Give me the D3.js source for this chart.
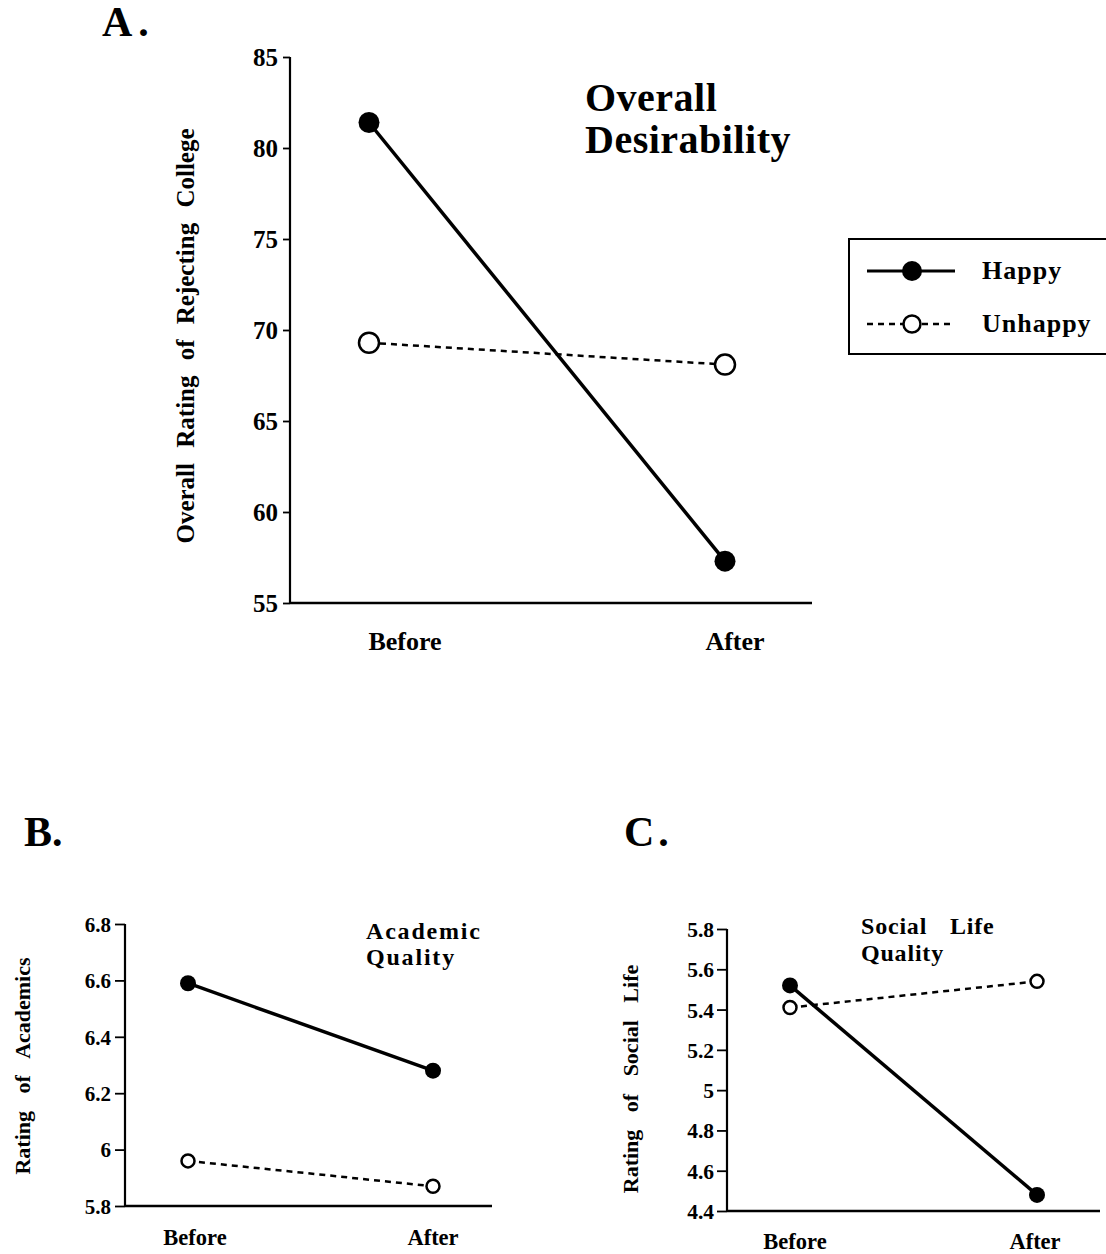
<!DOCTYPE html>
<html><head><meta charset="utf-8">
<script src="https://cdn.jsdelivr.net/npm/d3@7"></script>
<style>
body{margin:0;background:#fff;}
svg text{font-family:"Liberation Serif","Times New Roman",serif;font-weight:bold;fill:#000;}
</style></head><body>
<svg id="c" width="1106" height="1254"></svg>
<script>
const phases = ["Before","After"];
const seriesNames = ["Happy","Unhappy"];
// Panel A: Overall desirability
const overallHappy = [81.4, 57.3];
const overallUnhappy = [69.3, 68.1];
const overallTicks = [55,60,65,70,75,80,85];
// Panel B: Academic quality
const academicHappy = [6.59, 6.28];
const academicUnhappy = [5.96, 5.87];
const academicTicks = [5.8,6.0,6.2,6.4,6.6,6.8];
const academicTickLabels = ["5.8","6","6.2","6.4","6.6","6.8"];
// Panel C: Social life quality
const socialHappy = [5.52, 4.48];
const socialUnhappy = [5.41, 5.54];
const socialTicks = [4.4,4.6,4.8,5.0,5.2,5.4,5.6,5.8];
const socialTickLabels = ["4.4","4.6","4.8","5","5.2","5.4","5.6","5.8"];

const svg = d3.select("#c");

function panel(cfg){
  const g = svg.append("g");
  const y = d3.scaleLinear().domain(cfg.domain).range([cfg.y1, cfg.y0]);
  const x = d3.scalePoint().domain(phases).range([cfg.px0, cfg.px1]);
  const ya = d3.axisLeft(y).tickValues(cfg.ticks).tickSize(cfg.tick).tickPadding(cfg.pad)
     .tickFormat((d,i)=>cfg.tickLabels ? cfg.tickLabels[i] : d);
  const yg = g.append("g").attr("transform",`translate(${cfg.ax},0)`).call(ya);
  yg.select(".domain").attr("stroke","#000").attr("stroke-width",2.2).attr("d",`M0,${cfg.y0}V${cfg.y1}`);
  yg.selectAll(".tick line").attr("stroke","#000").attr("stroke-width",1.8);
  yg.selectAll("text").style("font-size",cfg.tickFs+"px").attr("dy","0.35em");
  g.append("line").attr("x1",cfg.ax).attr("x2",cfg.axEnd).attr("y1",cfg.y1).attr("y2",cfg.y1)
    .attr("stroke","#000").attr("stroke-width",2.5);
  g.selectAll(".xl").data(phases).enter().append("text")
    .attr("x",(d,i)=>x(d)+cfg.labOff[i]).attr("y",cfg.labY).attr("text-anchor","middle")
    .style("font-size",cfg.labFs+"px").text(d=>d);
  g.append("text").attr("transform",`translate(${cfg.ylx},${cfg.yly}) rotate(-90)`)
    .attr("text-anchor","middle").style("font-size",cfg.ylFs+"px").style("word-spacing",cfg.ws+"px")
    .text(cfg.ylabel);
  cfg.title.forEach((t,i)=>{
    g.append("text").attr("x",cfg.tx).attr("y",cfg.ty+i*cfg.tlh).style("font-size",cfg.tFs+"px")
      .style("letter-spacing",cfg.tls+"px").style("word-spacing",cfg.tws+"px").text(t);
  });
  g.append("text").attr("x",cfg.lx).attr("y",cfg.ly).style("font-size",cfg.lFs+"px")
    .style("letter-spacing",cfg.lls+"px").text(cfg.letter);
  const line = d3.line().x((d,i)=>x(phases[i])).y(d=>y(d));
  g.append("path").datum(cfg.unhappy).attr("d",line).attr("fill","none").attr("stroke","#000")
    .attr("stroke-width",cfg.dw).attr("stroke-dasharray",cfg.dash);
  g.append("path").datum(cfg.happy).attr("d",line).attr("fill","none").attr("stroke","#000")
    .attr("stroke-width",cfg.sw);
  g.selectAll(".u").data(cfg.unhappy).enter().append("circle")
    .attr("cx",(d,i)=>x(phases[i])).attr("cy",d=>y(d)).attr("r",cfg.ro)
    .attr("fill","#fff").attr("stroke","#000").attr("stroke-width",cfg.ow);
  g.selectAll(".h").data(cfg.happy).enter().append("circle")
    .attr("cx",(d,i)=>x(phases[i])).attr("cy",d=>y(d)).attr("r",cfg.rf).attr("fill","#000");
}

panel({domain:[55,85], y0:57, y1:603, ax:290, axEnd:812, px0:369, px1:725,
  ticks:overallTicks, tick:7, pad:5, tickFs:25, labOff:[36,10], labY:650, labFs:26,
  ylx:194, yly:336, ylFs:25, ws:9, ylabel:"Overall Rating of Rejecting College",
  title:["Overall","Desirability"], tx:585, ty:111, tlh:42, tFs:40, tls:0.5, tws:0,
  lx:102, ly:36, lFs:42, lls:6, letter:"A.",
  happy:overallHappy, unhappy:overallUnhappy, sw:3.5, dw:2.5, dash:"6,5", ro:10, ow:2.5, rf:10.5});

panel({domain:[5.8,6.8], y0:924, y1:1206, ax:125, axEnd:492, px0:188, px1:433,
  ticks:academicTicks, tickLabels:academicTickLabels, tick:10, pad:4, tickFs:21, labOff:[7,0], labY:1245, labFs:22.5,
  ylx:30, yly:1066, ylFs:22, ws:12, ylabel:"Rating of Academics",
  title:["Academic","Quality"], tx:366, ty:939, tlh:26, tFs:24, tls:1.8, tws:0,
  lx:24, ly:846, lFs:42, lls:0, letter:"B.",
  happy:academicHappy, unhappy:academicUnhappy, sw:3.5, dw:2.5, dash:"6,5", ro:6.5, ow:2.5, rf:8});

panel({domain:[4.4,5.8], y0:929, y1:1211, ax:727, axEnd:1100, px0:790, px1:1037,
  ticks:socialTicks, tickLabels:socialTickLabels, tick:10, pad:3, tickFs:21.5, labOff:[5,-2], labY:1249, labFs:22.5,
  ylx:638, yly:1079, ylFs:22, ws:12, ylabel:"Rating of Social Life",
  title:["Social Life","Quality"], tx:861, ty:934, tlh:27, tFs:24, tls:0.8, tws:16,
  lx:624, ly:846, lFs:42, lls:4, letter:"C.",
  happy:socialHappy, unhappy:socialUnhappy, sw:3.5, dw:2.5, dash:"6,5", ro:6.5, ow:2.5, rf:8});

// Legend
const lg = svg.append("g");
lg.append("rect").attr("x",849).attr("y",239).attr("width",262).attr("height",115)
  .attr("fill","#fff").attr("stroke","#000").attr("stroke-width",2);
const legRows = [{name:seriesNames[0], dash:null, filled:true},{name:seriesNames[1], dash:"6,5", filled:false}];
legRows.forEach((r,i)=>{
  const yy = 271 + i*53;
  lg.append("line").attr("x1",867).attr("x2",955).attr("y1",yy).attr("y2",yy)
    .attr("stroke","#000").attr("stroke-width",r.filled?3:2.5).attr("stroke-dasharray",r.dash);
  lg.append("circle").attr("cx",912).attr("cy",yy).attr("r",r.filled?10:8.5)
    .attr("fill",r.filled?"#000":"#fff").attr("stroke","#000").attr("stroke-width",r.filled?0:2.5);
  lg.append("text").attr("x",982).attr("y",yy+8).style("font-size","26px").style("letter-spacing","1px").text(r.name);
});
</script></body></html>
